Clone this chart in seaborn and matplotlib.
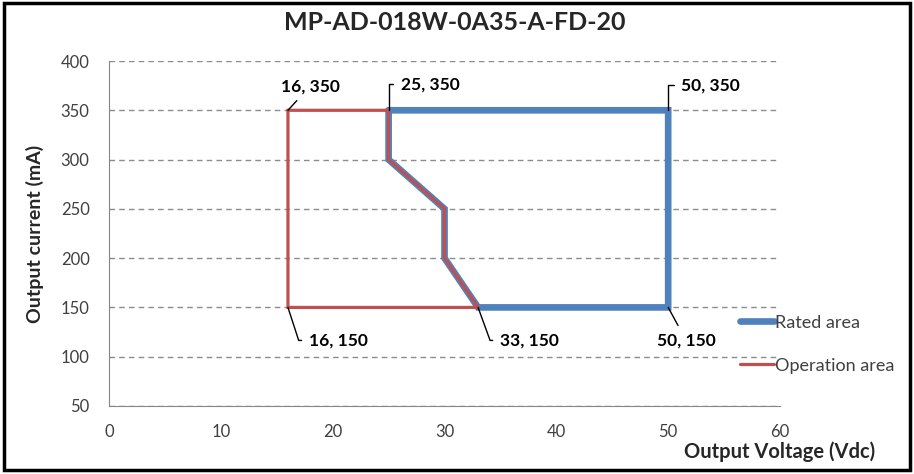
import pandas as pd
import matplotlib.pyplot as plt
import seaborn as sns
from matplotlib.patches import Rectangle

# === DADOS ===
rated_v = [25, 50, 50, 33, 30, 30, 25, 25]
rated_i = [350, 350, 150, 150, 200, 250, 300, 350]
oper_v = [16, 25, 25, 30, 30, 33, 16, 16]
oper_i = [350, 350, 300, 250, 200, 150, 150, 350]

pontos_v = [16, 25, 50, 16, 33, 50]
pontos_i = [350, 350, 350, 150, 150, 150]
pontos_txt = ["16, 350", "25, 350", "50, 350", "16, 150", "33, 150", "50, 150"]

titulo = "MP-AD-018W-0A35-A-FD-20"

# === ESTILO ===
sns.set_style("white")
plt.rcParams["font.family"] = ["Lato", "DejaVu Sans"]
cor_txt = "#404040"

df_rated = pd.DataFrame({"v": rated_v, "i": rated_i})
df_oper = pd.DataFrame({"v": oper_v, "i": oper_i})

fig = plt.figure(figsize=(9.14, 4.74), dpi=100)
ax = fig.add_axes([0.1193, 0.1435, 0.7341, 0.7278])

sns.lineplot(data=df_rated, x="v", y="i", sort=False, estimator=None,
             color="#4F81BD", linewidth=4.8, label="Rated area", ax=ax,
             solid_joinstyle="miter")
sns.lineplot(data=df_oper, x="v", y="i", sort=False, estimator=None,
             color="#C0504D", linewidth=2.3, label="Operation area", ax=ax,
             solid_joinstyle="miter")

ax.set_xlim(0, 60)
ax.set_ylim(50, 400)
ax.set_xticks(range(0, 61, 10))
ax.set_yticks(range(50, 401, 50))
ax.yaxis.grid(True, linestyle=(0, (4, 3)), color="#8c8c8c", linewidth=1)
ax.set_axisbelow(True)
for lado in ["top", "right"]:
    ax.spines[lado].set_visible(False)
for lado in ["left", "bottom"]:
    ax.spines[lado].set_color("#868686")
ax.tick_params(axis="x", length=0, pad=13, labelsize=12, labelcolor=cor_txt)
ax.tick_params(axis="y", length=0, pad=14, labelsize=12, labelcolor=cor_txt)
ax.set_xlabel("")
ax.set_ylabel("Output current (mA)", fontsize=14, fontweight="bold", labelpad=12)

# === RÓTULOS DOS PONTOS ===
offsets = [(22, 24), (12, 26), (13, 25), (21, -33), (22, -33), (18, -33)]
conexoes = ["arc3", "angle,angleA=0,angleB=90,rad=0", "angle,angleA=0,angleB=90,rad=0",
            "angle,angleA=0,angleB=-72,rad=0", "angle,angleA=0,angleB=-70,rad=0", "arc3"]
alinh = ["center", "left", "left", "left", "left", "center"]
for v, i, txt, off, con, ha in zip(pontos_v, pontos_i, pontos_txt, offsets, conexoes, alinh):
    ax.annotate(txt, xy=(v, i), xytext=off, textcoords="offset pixels",
                ha=ha, va="center", fontsize=12.5, fontweight="bold", color="black",
                arrowprops=dict(arrowstyle="-", color="black", lw=1,
                                connectionstyle=con, shrinkA=3, shrinkB=0))

# === LEGENDA E TEXTOS ===
ax.get_legend().remove()
h, l = ax.get_legend_handles_labels()
fig.legend(h, l, loc="center left", bbox_to_anchor=(0.792, 0.274), frameon=False,
           fontsize=13, handlelength=1.9, handletextpad=0.05, labelspacing=1.5,
           labelcolor=cor_txt)

fig.suptitle(titulo, x=0.497, y=0.977, fontsize=18, fontweight="bold")
fig.text(0.958, 0.046, "Output Voltage (Vdc)", ha="right", va="center",
         fontsize=14.5, fontweight="bold")

fig.patches.append(Rectangle((0.004, 0.008), 0.992, 0.986, transform=fig.transFigure,
                             fill=False, edgecolor="black", linewidth=2.5))

fig.savefig("out.png", dpi=100)
